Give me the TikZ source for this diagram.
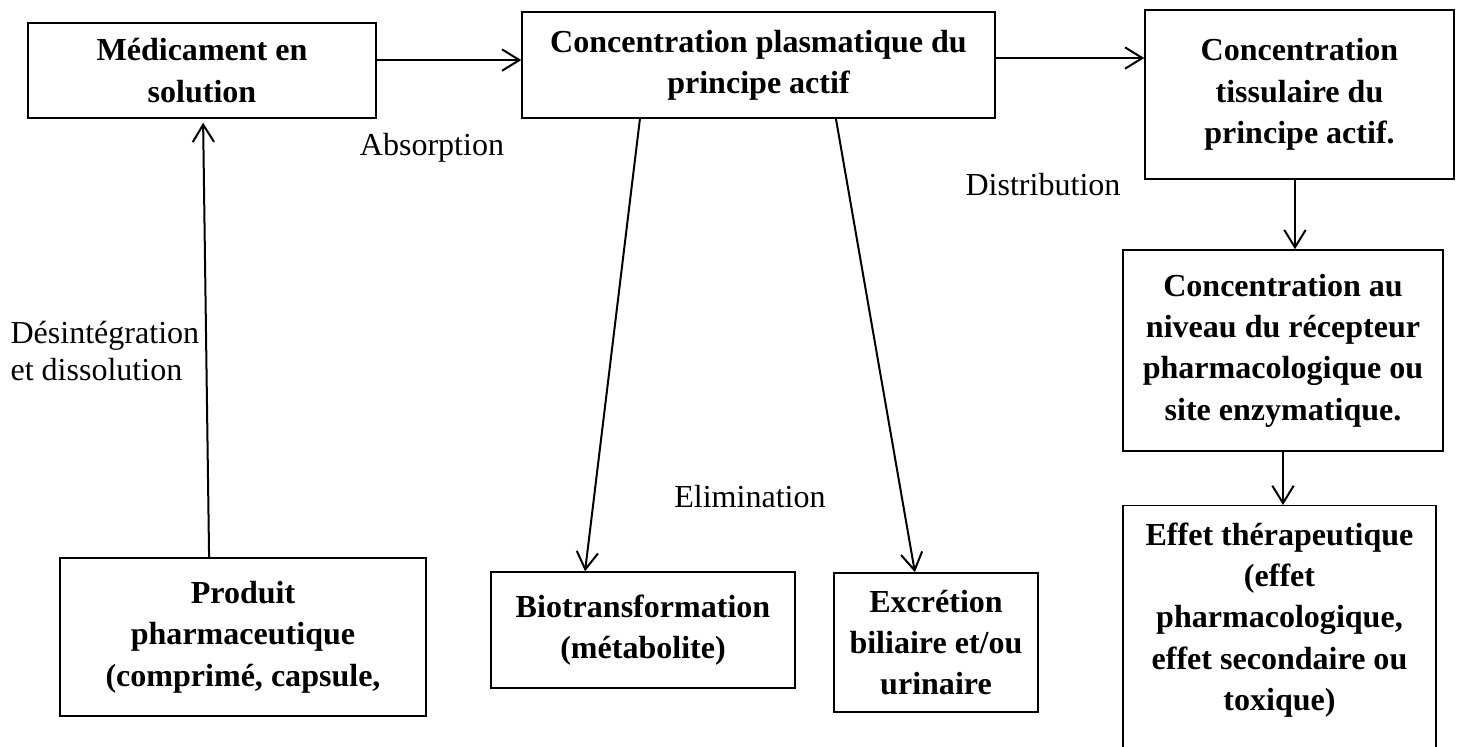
\documentclass[tikz,border=0pt]{standalone}
\usepackage{fontspec}
\setmainfont{Liberation Serif}
\usepackage{tikz}
\usetikzlibrary{arrows.meta, positioning, calc}

\begin{document}
\begin{tikzpicture}[
  x=0.3745pt, y=-0.3745pt,
  box/.style={rectangle, draw, line width=0.55pt, inner sep=0pt, align=center,
              font=\bfseries\fontsize{12}{15.5}\selectfont},
  boxtext/.style={inner sep=0pt, align=center, font=\bfseries\fontsize{12}{15.5}\selectfont},
  lbl/.style={inner sep=0pt, align=left, font=\fontsize{12}{13.9}\selectfont},
  arr/.style={-{Straight Barb[length=6.5pt, width=8pt]}, line width=0.75pt}
]
\useasboundingbox (0,0) rectangle (1458,747);

\node[box, minimum width=130.3pt, minimum height=35.6pt] (med) at (202,70.5)
  {Médicament en\\solution};
\node[box, minimum width=177.1pt, minimum height=39.7pt] (plasma) at (758.5,65)
  {Concentration plasmatique du\\principe actif};
\node[box, minimum width=115.7pt, minimum height=63.3pt] (tissu) at (1299.5,94.5)
  {Concentration\\tissulaire du\\principe actif.};
\node[box, minimum width=119.8pt, minimum height=75.3pt] (recep) at (1283,350.5)
  {Concentration au\\niveau du récepteur\\pharmacologique ou\\site enzymatique.};
\node[box, anchor=north, minimum width=117.2pt, minimum height=112pt] (effet) at (1279.5,505) {};
\node[boxtext] (effettxt) at (1279.5,620)
  {Effet thérapeutique\\(effet\\pharmacologique,\\effet secondaire ou\\toxique)};
\node[box, minimum width=137.1pt, minimum height=59.2pt] (produit) at (243,637)
  {Produit\\pharmaceutique\\(comprimé, capsule,};
\node[box, minimum width=113.8pt, minimum height=43.4pt] (bio) at (643,630)
  {Biotransformation\\(métabolite)};
\node[box, minimum width=76.4pt, minimum height=52.1pt] (exc) at (936,642.5)
  {Excrétion\\biliaire et/ou\\urinaire};

% labels
\node[lbl] (absorp) at (432,148) {Absorption};
\node[lbl] (distrib) at (1043,185) {Distribution};
\node[lbl] (elim) at (750,497) {Elimination};
\node[lbl, anchor=west] (desint) at (10,351) {Désintégration\\et dissolution};

% arrows
\draw[arr, shorten >=1.5pt] ([xshift=-12.7pt]produit.north) -- ([xshift=0.4pt]med.south);
\draw[arr] ([yshift=3.9pt]med.east) -- ([yshift=3.9pt]med.east -| plasma.west);
\draw[arr] ([yshift=2.6pt]plasma.east) -- ([yshift=2.6pt]plasma.east -| tissu.west);
\draw[arr] ([xshift=-44.4pt]plasma.south) -- ([xshift=-21.7pt]bio.north);
\draw[arr] ([xshift=29pt]plasma.south) -- ([xshift=-7.9pt]exc.north);
\draw[arr] ([xshift=-1.7pt]tissu.south) -- ([xshift=-1.7pt]tissu.south |- recep.north);
\draw[arr] (recep.south) -- (recep.south |- effet.north);
\end{tikzpicture}
\end{document}
